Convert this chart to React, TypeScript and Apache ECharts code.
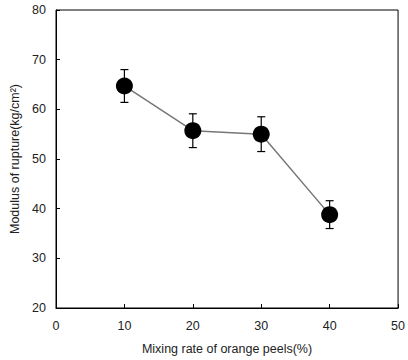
import React, { useEffect, useRef } from "react";
import * as echarts from "echarts";

const mixingRates = [10, 20, 30, 40];
const modulusValues = [64.7, 55.7, 55.0, 38.8];
const errorValues = [3.3, 3.4, 3.5, 2.8];
const xTicks = [0, 10, 20, 30, 40, 50];
const yTicks = [20, 30, 40, 50, 60, 70, 80];

export default function App() {
  const ref = useRef<HTMLDivElement>(null);
  useEffect(() => {
    if (!ref.current) return;
    const chart = echarts.init(ref.current, undefined, { renderer: "svg" });
    const font = "'Liberation Sans', Arial, sans-serif";
    const points = mixingRates.map((x, i) => [x, modulusValues[i]]);
    const errData = mixingRates.map((x, i) => [x, modulusValues[i] - errorValues[i], modulusValues[i] + errorValues[i]]);
    chart.setOption({
      animation: false,
      grid: { left: 56, top: 10, right: 6, bottom: 51, show: true, borderColor: "#000", borderWidth: 1, backgroundColor: "transparent" },
      xAxis: {
        type: "value",
        min: xTicks[0],
        max: xTicks[xTicks.length - 1],
        interval: 10,
        name: "Mixing rate of orange peels(%)",
        nameLocation: "middle",
        nameGap: 34,
        nameTextStyle: { fontFamily: font, fontSize: 12.5, color: "#222" },
        axisLine: { show: true, lineStyle: { color: "#000", width: 1 } },
        axisTick: { show: true, inside: true, length: 4, lineStyle: { color: "#000" } },
        axisLabel: { fontFamily: font, fontSize: 12.5, color: "#222", margin: 11 },
        splitLine: { show: false },
      },
      yAxis: {
        type: "value",
        min: yTicks[0],
        max: yTicks[yTicks.length - 1],
        interval: 10,
        name: "Modulus of rupture(kg/cm²)",
        nameLocation: "middle",
        nameGap: 35,
        nameTextStyle: { fontFamily: font, fontSize: 12.5, color: "#222" },
        axisLine: { show: true, lineStyle: { color: "#000", width: 1 } },
        axisTick: { show: true, inside: true, length: 4, lineStyle: { color: "#000" } },
        axisLabel: { fontFamily: font, fontSize: 12.5, color: "#222", margin: 10 },
        splitLine: { show: false },
      },
      series: [
        {
          type: "line",
          data: points,
          symbol: "none",
          lineStyle: { color: "#777", width: 1.5 },
          z: 2,
        },
        {
          type: "custom",
          data: errData,
          z: 3,
          renderItem: (params: any, api: any) => {
            const x = api.value(0);
            const lo = api.coord([x, api.value(1)]);
            const hi = api.coord([x, api.value(2)]);
            const hw = 4;
            const style = { stroke: "#000", lineWidth: 1.2 };
            return {
              type: "group",
              children: [
                { type: "line", shape: { x1: lo[0], y1: lo[1], x2: hi[0], y2: hi[1] }, style },
                { type: "line", shape: { x1: lo[0] - hw, y1: lo[1], x2: lo[0] + hw, y2: lo[1] }, style },
                { type: "line", shape: { x1: hi[0] - hw, y1: hi[1], x2: hi[0] + hw, y2: hi[1] }, style },
              ],
            };
          },
        },
        {
          type: "scatter",
          data: points,
          symbol: "circle",
          symbolSize: 17,
          itemStyle: { color: "#000", opacity: 1 },
          z: 4,
        },
      ],
    });
    return () => chart.dispose();
  }, []);
  return <div ref={ref} style={{ position: "absolute", left: 0, top: 0, width: 408, height: 360 }} />;
}
